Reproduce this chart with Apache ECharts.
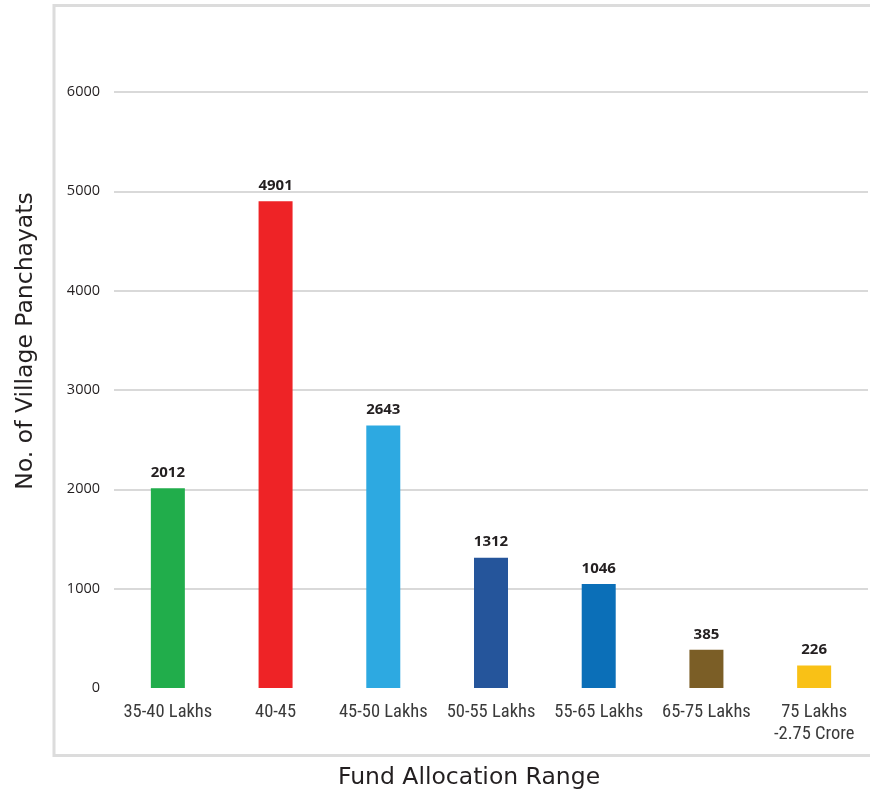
<!DOCTYPE html>
<html>
<head>
<meta charset="utf-8">
<script src="https://cdn.jsdelivr.net/npm/echarts@6/dist/echarts.min.js"></script>
<style>html,body{margin:0;padding:0;background:#fff}#c{width:870px;height:796px}</style>
</head>
<body>
<div id="c"></div>
<script>
const categories = ['35-40 Lakhs', '40-45', '45-50 Lakhs', '50-55 Lakhs', '55-65 Lakhs', '65-75 Lakhs', '75 Lakhs\n-2.75 Crore'];
const values = [2012, 4901, 2643, 1312, 1046, 385, 226];
const barColors = ['#21AD4B', '#EE2326', '#2DA9E1', '#25559B', '#0B6FB8', '#7B5E26', '#F9C116'];
const yTicks = [0, 1000, 2000, 3000, 4000, 5000, 6000];
const xTitle = 'Fund Allocation Range';
const yTitle = 'No. of Village Panchayats';

const chart = echarts.init(document.getElementById('c'), null, {renderer: 'canvas'});
chart.setOption({
  animation: false,
  backgroundColor: '#ffffff',
  grid: {left: 114, right: 2, top: 92, bottom: 108, containLabel: false},
  graphic: [
    {type: 'rect', z: 0, shape: {x: 54, y: 5.5, width: 840, height: 750}, style: {fill: 'none', stroke: '#dcdcdc', lineWidth: 3}},
    {type: 'text', x: 469, y: 778, style: {text: xTitle, font: '23.5px "DejaVu Sans"', fill: '#231f20', textAlign: 'center', textVerticalAlign: 'middle'}},
    {type: 'text', x: 26, y: 341, rotation: Math.PI / 2, style: {text: yTitle, font: '23.5px "DejaVu Sans"', fill: '#231f20', textAlign: 'center', textVerticalAlign: 'middle'}}
  ],
  xAxis: {
    type: 'category',
    data: categories,
    axisLine: {show: false},
    axisTick: {show: false},
    axisLabel: {margin: 13, fontFamily: '"Roboto Condensed", "Roboto", sans-serif', fontSize: 18.5, lineHeight: 22, color: '#3a3a3a', interval: 0}
  },
  yAxis: {
    type: 'value',
    min: yTicks[0],
    max: yTicks[yTicks.length - 1],
    interval: 1000,
    axisLine: {show: false},
    axisTick: {show: false},
    axisLabel: {margin: 14, fontFamily: '"Open Sans", sans-serif', fontSize: 14.5, color: '#231f20', formatter: v => String(v)},
    splitLine: {showMinLine: false, lineStyle: {color: '#d9d9d9', width: 2}}
  },
  series: [{
    type: 'bar',
    barWidth: 34,
    data: values.map((v, i) => ({value: v, itemStyle: {color: barColors[i]}})),
    label: {show: true, position: 'top', distance: 8, fontFamily: '"Open Sans", sans-serif', fontWeight: 'bold', fontSize: 15, color: '#231f20'}
  }]
});
</script>
</body>
</html>
